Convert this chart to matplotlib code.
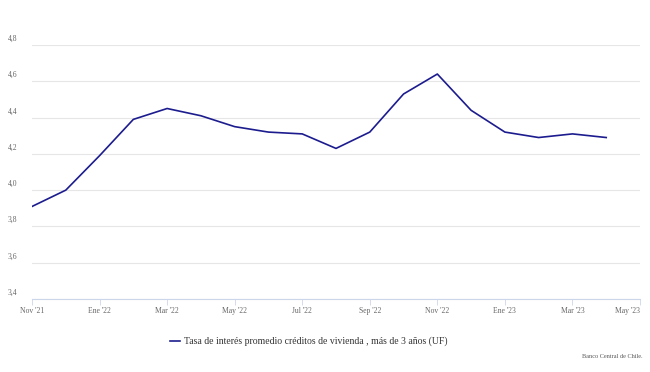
import matplotlib.pyplot as plt
import numpy as np

# data
meses = ["Nov '21", "Dic '21", "Ene '22", "Feb '22", "Mar '22", "Abr '22", "May '22",
         "Jun '22", "Jul '22", "Ago '22", "Sep '22", "Oct '22", "Nov '22", "Dic '22",
         "Ene '23", "Feb '23", "Mar '23", "Abr '23"]
tasa = [3.91, 4.00, 4.19, 4.39, 4.45, 4.41, 4.35, 4.32, 4.31, 4.23,
        4.32, 4.53, 4.64, 4.44, 4.32, 4.29, 4.31, 4.29]
tick_labels = ["Nov '21", "Ene '22", "Mar '22", "May '22", "Jul '22", "Sep '22",
               "Nov '22", "Ene '23", "Mar '23", "May '23"]
y_ticks = [3.4, 3.6, 3.8, 4.0, 4.2, 4.4, 4.6, 4.8]
serie = "Tasa de interés promedio créditos de vivienda , más de 3 años (UF)"

plt.rcParams["font.family"] = ["Liberation Serif", "DejaVu Serif"]

fig = plt.figure(figsize=(6.5, 3.72), dpi=100)
ax = fig.add_axes([32 / 650, 73 / 372, 608 / 650, 254 / 372])

x = np.arange(len(tasa))
ax.plot(x, tasa, color="#1c1c8f", linewidth=1.2)

ax.set_xlim(0, 18)
ax.set_ylim(3.4, 4.8)
ax.set_xticks(np.arange(0, 19, 2))
ax.set_xticklabels(tick_labels, fontsize=5.5, color="#666666")
ax.get_xticklabels()[-1].set_horizontalalignment("right")
ax.get_xticklabels()[-1].set_x(18.05)
ax.set_yticks(y_ticks)
ax.set_yticklabels([])
for v in y_ticks:
    ax.text(-24 / 608, v + 0.012, f"{v:.1f}".replace(".", ","), fontsize=5.5,
            color="#666666", ha="left", va="bottom",
            transform=ax.get_yaxis_transform())

ax.grid(axis="y", color="#e6e6e6", linewidth=0.8)
ax.set_axisbelow(True)
ax.tick_params(axis="y", length=0)
ax.tick_params(axis="x", length=4, color="#ccd6eb", width=0.6, pad=2)
for s in ["top", "right", "left"]:
    ax.spines[s].set_visible(False)
ax.spines["bottom"].set_color("#ccd6eb")
ax.spines["bottom"].set_linewidth(0.8)

# legend
fig.lines.append(plt.Line2D([170 / 650, 180 / 650], [1 - 341 / 372, 1 - 341 / 372],
                            color="#1c1c8f", linewidth=1.2, transform=fig.transFigure))
fig.text(184 / 650, 1 - 341 / 372, serie, fontsize=7, color="#333333", va="center")
fig.text(643 / 650, 1 - 356 / 372, "Banco Central de Chile.", fontsize=4.5,
         color="#555555", ha="right", va="center")

plt.savefig("out.png", dpi=100)
